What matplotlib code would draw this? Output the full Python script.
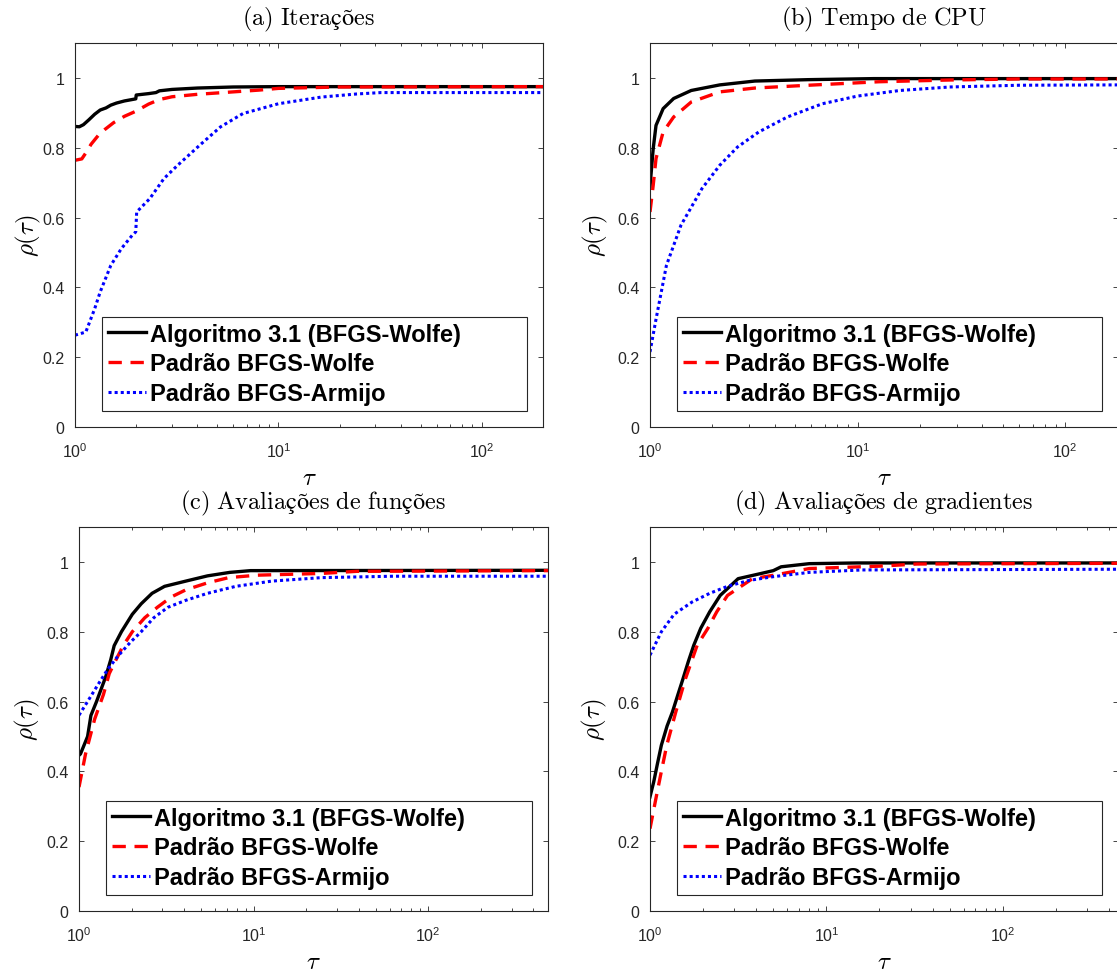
import numpy as np
import matplotlib
matplotlib.use('Agg')
import matplotlib.pyplot as plt
from matplotlib.ticker import LogLocator, FixedLocator, FixedFormatter

plt.rcParams['font.family'] = ['Liberation Sans', 'DejaVu Sans']
plt.rcParams['mathtext.fontset'] = 'cm'

# performance profiles: (tau, rho) for each solver and each metric
# (a) iterations
iter_alg = [(1.0, 0.861), (1.05, 0.860), (1.10, 0.866), (1.17, 0.880), (1.25, 0.896),
            (1.33, 0.908), (1.42, 0.914), (1.50, 0.922), (1.60, 0.928), (1.75, 0.934),
            (1.99, 0.940), (2.0, 0.951), (2.3, 0.955), (2.5, 0.958), (2.6, 0.963),
            (3.0, 0.967), (4.0, 0.971), (6.0, 0.974), (10.0, 0.975), (200.0, 0.975)]
iter_wolfe = [(1.0, 0.764), (1.08, 0.768), (1.13, 0.785), (1.20, 0.810), (1.30, 0.835),
              (1.40, 0.852), (1.55, 0.872), (1.75, 0.890), (2.0, 0.905), (2.3, 0.925),
              (2.6, 0.938), (3.0, 0.946), (4.0, 0.953), (6.0, 0.960), (8.0, 0.965),
              (10.0, 0.970), (20.0, 0.974), (200.0, 0.975)]
iter_armijo = [(1.0, 0.263), (1.13, 0.272), (1.25, 0.339), (1.33, 0.387), (1.50, 0.463),
               (1.69, 0.511), (1.91, 0.549), (1.99, 0.559), (2.01, 0.616), (2.33, 0.654),
               (2.74, 0.712), (3.2, 0.750), (4.1, 0.807), (5.2, 0.860), (6.7, 0.898),
               (10.0, 0.926), (16.2, 0.945), (24.3, 0.954), (32.0, 0.958), (200.0, 0.958)]

# (b) CPU time
cpu_alg = [(1.0, 0.688), (1.036, 0.797), (1.069, 0.864), (1.157, 0.912), (1.30, 0.941),
           (1.58, 0.964), (2.17, 0.980), (3.2, 0.991), (5.8, 0.995), (12.0, 0.998),
           (180.0, 0.998)]
cpu_wolfe = [(1.0, 0.616), (1.036, 0.692), (1.069, 0.769), (1.157, 0.845), (1.30, 0.888),
             (1.58, 0.931), (2.17, 0.960), (3.2, 0.971), (5.8, 0.979), (12.7, 0.989),
             (27.8, 0.994), (60.0, 0.997), (180.0, 0.997)]
cpu_armijo = [(1.0, 0.215), (1.07, 0.310), (1.20, 0.463), (1.41, 0.578), (1.78, 0.683),
              (2.17, 0.750), (2.64, 0.802), (3.34, 0.845), (4.59, 0.888), (6.77, 0.926),
              (10.0, 0.948), (16.0, 0.964), (27.8, 0.974), (60.0, 0.979), (180.0, 0.980)]

# (c) function evaluations
fun_alg = [(1.0, 0.446), (1.02, 0.450), (1.12, 0.500), (1.17, 0.560), (1.26, 0.600),
           (1.42, 0.670), (1.52, 0.720), (1.59, 0.760), (1.75, 0.800), (2.02, 0.850),
           (2.27, 0.880), (2.62, 0.910), (3.09, 0.930), (4.09, 0.945), (5.44, 0.960),
           (7.3, 0.970), (9.6, 0.975), (485.0, 0.976)]
fun_wolfe = [(1.0, 0.355), (1.09, 0.450), (1.23, 0.550), (1.38, 0.620), (1.49, 0.680),
             (1.63, 0.720), (1.79, 0.760), (2.02, 0.800), (2.38, 0.840), (2.81, 0.870),
             (3.39, 0.900), (4.09, 0.920), (5.44, 0.940), (7.2, 0.955), (10.5, 0.962),
             (24.5, 0.967), (39.0, 0.973), (485.0, 0.975)]
fun_armijo = [(1.0, 0.561), (1.12, 0.600), (1.29, 0.650), (1.45, 0.690), (1.67, 0.730),
              (1.97, 0.770), (2.27, 0.800), (2.68, 0.840), (3.23, 0.870), (4.09, 0.890),
              (5.44, 0.910), (7.9, 0.930), (12.7, 0.945), (24.5, 0.955), (63.0, 0.959),
              (485.0, 0.959)]

# (d) gradient evaluations
grad_alg = [(1.0, 0.327), (1.05, 0.370), (1.10, 0.420), (1.16, 0.475), (1.25, 0.530),
            (1.34, 0.570), (1.44, 0.620), (1.54, 0.666), (1.65, 0.715), (1.77, 0.761),
            (1.94, 0.810), (2.18, 0.857), (2.50, 0.904), (3.16, 0.952), (4.19, 0.966),
            (5.0, 0.975), (5.54, 0.986), (8.0, 0.995), (15.0, 0.997), (450.0, 0.997)]
grad_wolfe = [(1.0, 0.236), (1.08, 0.322), (1.16, 0.400), (1.245, 0.475), (1.40, 0.570),
              (1.59, 0.666), (1.85, 0.761), (2.13, 0.810), (2.39, 0.857), (2.75, 0.904),
              (3.81, 0.952), (5.05, 0.962), (8.0, 0.981), (20.4, 0.988), (32.6, 0.994),
              (450.0, 0.996)]
grad_armijo = [(1.0, 0.733), (1.16, 0.800), (1.37, 0.850), (1.73, 0.885), (2.18, 0.910),
               (2.75, 0.930), (3.64, 0.947), (5.05, 0.958), (8.0, 0.970), (16.0, 0.977),
               (450.0, 0.979)]

titles = ['(a)\\ Iterações', '(b)\\ Tempo\\ de\\ CPU',
          '(c)\\ Avaliações\\ de\\ funções', '(d)\\ Avaliações\\ de\\ gradientes']
labels = ['Algoritmo 3.1 (BFGS-Wolfe)', 'Padrão BFGS-Wolfe', 'Padrão BFGS-Armijo']
xmax = [200, 180, 485, 450]
profiles = [[iter_alg, iter_wolfe, iter_armijo],
            [cpu_alg, cpu_wolfe, cpu_armijo],
            [fun_alg, fun_wolfe, fun_armijo],
            [grad_alg, grad_wolfe, grad_armijo]]

W, H = 1117, 970
fig = plt.figure(figsize=(W / 100, H / 100), dpi=100)
# axes boxes in pixels: left, top, width, height
boxes = [(75, 44, 468, 384), (650, 44, 468, 384),
         (79, 528, 469, 384), (650, 528, 468, 384)]
ylab_x = [-0.068, -0.086, -0.078, -0.088]

styles = [dict(color='black', linestyle='-', linewidth=2.4),
          dict(color='red', linestyle=(0, (4, 2.6)), linewidth=2.4),
          dict(color='blue', linestyle=(0, (1, 1)), linewidth=2.2)]

axcol = '#262626'
for k in range(4):
    l, t, w, h = boxes[k]
    ax = fig.add_axes([l / W, (H - t - h) / H, w / W, h / H])
    for prof, st, lab in zip(profiles[k], styles, labels):
        tau = [p[0] for p in prof]
        rho = [p[1] for p in prof]
        ax.plot(tau, rho, label=lab, **st)
    ax.set_xscale('log')
    ax.set_xlim(1, xmax[k])
    ax.set_ylim(0, 1.1)
    ax.yaxis.set_major_locator(FixedLocator([0, 0.2, 0.4, 0.6, 0.8, 1.0]))
    ax.yaxis.set_major_formatter(FixedFormatter(['0', '0.2', '0.4', '0.6', '0.8', '1']))
    ax.xaxis.set_major_locator(LogLocator(base=10))
    ax.xaxis.set_minor_locator(LogLocator(base=10, subs=np.arange(2, 10)))
    ax.tick_params(which='both', direction='in', top=True, right=True,
                   color=axcol, labelcolor=axcol, labelsize=11.5, width=0.6)
    ax.tick_params(which='major', length=3.6)
    ax.tick_params(which='minor', length=2.2)
    ax.tick_params(axis='y', pad=7.5)
    ax.tick_params(axis='x', pad=10)
    for s in ax.spines.values():
        s.set_color(axcol)
        s.set_linewidth(0.8)
    ax.set_title('$\\mathrm{' + titles[k] + '}$', fontsize=17.5, pad=13.5)
    ax.set_xlabel('$\\tau$', fontsize=18)
    ax.set_ylabel('$\\rho(\\tau)$', fontsize=18)
    ax.xaxis.set_label_coords(0.5, -0.099)
    ax.yaxis.set_label_coords(ylab_x[k], 0.5)
    leg = ax.legend(loc='lower left', bbox_to_anchor=(0.058, 0.042, 0.908, 0.25),
                    mode='expand', prop={'weight': 'bold', 'size': 17},
                    handlelength=1.6, handletextpad=0.17, labelspacing=0.29,
                    borderpad=0.24, borderaxespad=0, fancybox=False, framealpha=1)
    leg.get_frame().set_edgecolor(axcol)
    leg.get_frame().set_linewidth(0.8)

fig.savefig('out.png', dpi=100)
